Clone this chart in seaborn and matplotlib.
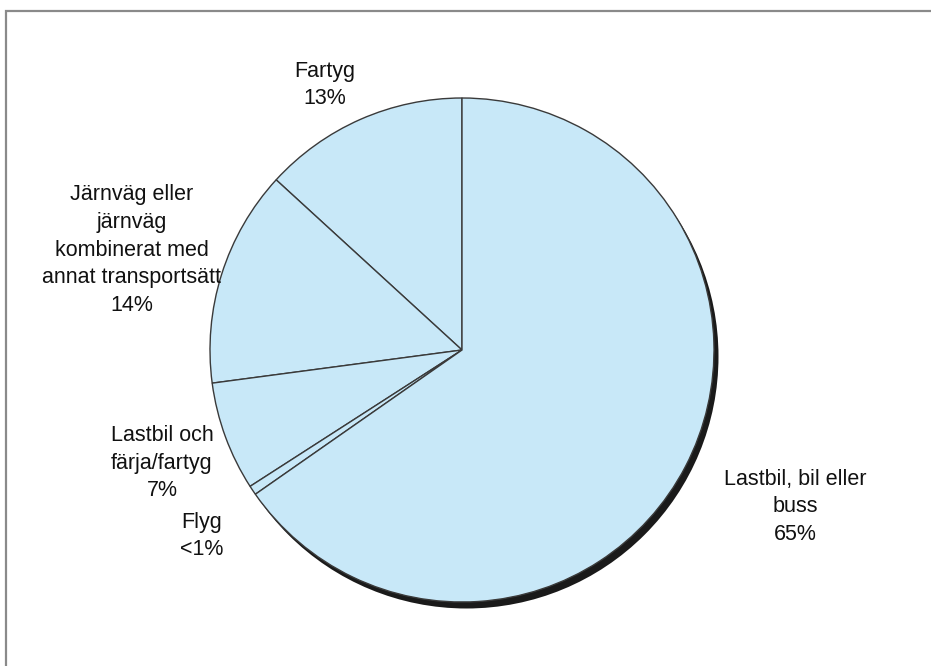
import numpy as np
import matplotlib
matplotlib.use("Agg")
import matplotlib.pyplot as plt
import matplotlib.patches as mpatches
import seaborn as sns

# shares of goods transport (percent), counterclockwise from the top
categories = ["Fartyg",
              "Järnväg eller\njärnväg\nkombinerat med\nannat transportsätt",
              "Lastbil och\nfärja/fartyg",
              "Flyg",
              "Lastbil, bil eller\nbuss"]
shares = [13.2, 13.9, 7.0, 0.6, 65.3]
pct_labels = ["13%", "14%", "7%", "<1%", "65%"]

sns.set_theme(style="white")
plt.rcParams['font.family'] = ['Liberation Sans', 'DejaVu Sans']

fill = "#c8e8f8"
edge = "#3a3a3a"

fig = plt.figure(figsize=(9.31, 6.66), dpi=100)
ax = fig.add_axes([0, 0, 1, 1])
ax.set_axis_off()

# pixel geometry of the reference: centre (462, 350), radius 252
R = 252.0
cx, cy = 462.0, 350.0

# hard shadow behind the pie
shadow = mpatches.Circle((4.5 / R, -6.5 / R), 1.0, facecolor="#1a1a1a",
                         edgecolor="none", zorder=1)
ax.add_patch(shadow)

wedges, _ = ax.pie(shares, startangle=90, counterclock=True, radius=1.0,
                   colors=[fill] * len(shares),
                   wedgeprops=dict(edgecolor=edge, linewidth=1.0))
for w in wedges:
    w.set_zorder(2)
ax.set_xlim(-cx / R, (931 - cx) / R)
ax.set_ylim(-(666 - cy) / R, cy / R)
ax.set_aspect("equal")

# label positions (pixel centres in the reference)
label_px = [(325, 85), (132, 250), (162, 463), (202, 536), (795, 507)]
for name, pct, (px, py) in zip(categories, pct_labels, label_px):
    ax.text((px - cx) / R, (cy - py) / R, name + "\n" + pct,
            ha="center", va="center", fontsize=15.5, linespacing=1.43,
            color="#111111", zorder=5)

# frame of the original page (clipped on the right and bottom)
frame = mpatches.Rectangle((5.5 / 931, -0.1), 1.2, 1.1 - 11.0 / 666,
                           transform=fig.transFigure, fill=False,
                           edgecolor="#8a8a8a", linewidth=1.6)
fig.patches.append(frame)

fig.savefig("out.png", dpi=100)
